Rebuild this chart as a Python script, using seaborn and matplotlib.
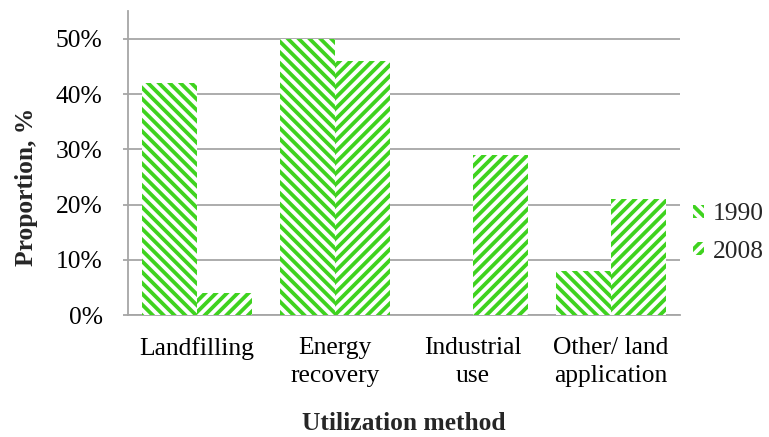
import matplotlib
matplotlib.use("Agg")
import matplotlib.pyplot as plt
from matplotlib.ticker import PercentFormatter
import seaborn as sns
import pandas as pd

# Sludge utilization shares by method, 1990 vs 2008
methods = ["Landfilling", "Energy\nrecovery", "Industrial\nuse", "Other/ land\napplication"]
years = ["1990", "2008"]
share_1990 = [42, 50, 0, 8]
share_2008 = [4, 46, 29, 21]
y_ticks = [0, 10, 20, 30, 40, 50]

GREEN = "#3fd21f"
GRID = "#a6a6a6"
DPI = 130

sns.set_style("white")
plt.rcParams["font.family"] = ["Liberation Serif", "DejaVu Serif"]
plt.rcParams["hatch.linewidth"] = 2.1
plt.rcParams["hatch.color"] = GREEN

df = pd.DataFrame({
    "method": methods * 2,
    "year": [years[0]] * len(methods) + [years[1]] * len(methods),
    "share": share_1990 + share_2008,
})

fig = plt.figure(figsize=(769 / DPI, 437 / DPI), dpi=DPI)
ax = fig.add_axes([128 / 769, 1 - 315 / 437, (680 - 128) / 769, (315 - 11) / 437])

sns.barplot(data=df, x="method", y="share", hue="year", hue_order=years,
            order=methods, palette=[GREEN, GREEN], width=0.8,
            legend=False, ax=ax, zorder=3)

# same stripe density for both series, opposite directions
hatches = ["\\\\\\\\", "////"]
for cont, h in zip(ax.containers, hatches):
    for p in cont.patches:
        p.set_facecolor("white")
        p.set_edgecolor(GREEN)
        p.set_linewidth(0)
        p.set_hatch(h)

ax.set_ylim(0, 55.07)
ax.set_xlim(-0.5, len(methods) - 0.5)
ax.set_yticks(y_ticks)
ax.yaxis.set_major_formatter(PercentFormatter(decimals=0))
ax.yaxis.grid(True, color=GRID, linewidth=1.0, zorder=0)
ax.set_axisbelow(True)

for side in ["top", "right"]:
    ax.spines[side].set_visible(False)
for side in ["left", "bottom"]:
    ax.spines[side].set_color(GRID)
    ax.spines[side].set_linewidth(1.0)

fs = 14.1
ax.tick_params(axis="y", which="major", left=True, length=2.8, width=1.0,
               color=GRID, pad=11.3, labelsize=fs, labelcolor="black")
ax.tick_params(axis="x", which="major", bottom=False, length=0, pad=12.0,
               labelsize=fs, labelcolor="black")
for lbl in ax.get_xticklabels():
    lbl.set_linespacing(1.38)

ax.set_xlabel("Utilization method", fontsize=fs, fontweight="bold", labelpad=14)
ax.set_ylabel("Proportion, %", fontsize=fs, fontweight="bold")
ax.yaxis.set_label_coords(-0.163, 0.42)

leg = ax.legend(ax.containers, years, loc="center left",
                bbox_to_anchor=(693 / 769, 1 - 233 / 437),
                bbox_transform=fig.transFigure, frameon=False, fontsize=fs,
                handlelength=0.45, handleheight=0.4, handletextpad=0.33,
                labelspacing=0.6, borderpad=0, borderaxespad=0)

fig.savefig("out.png", dpi=DPI)
